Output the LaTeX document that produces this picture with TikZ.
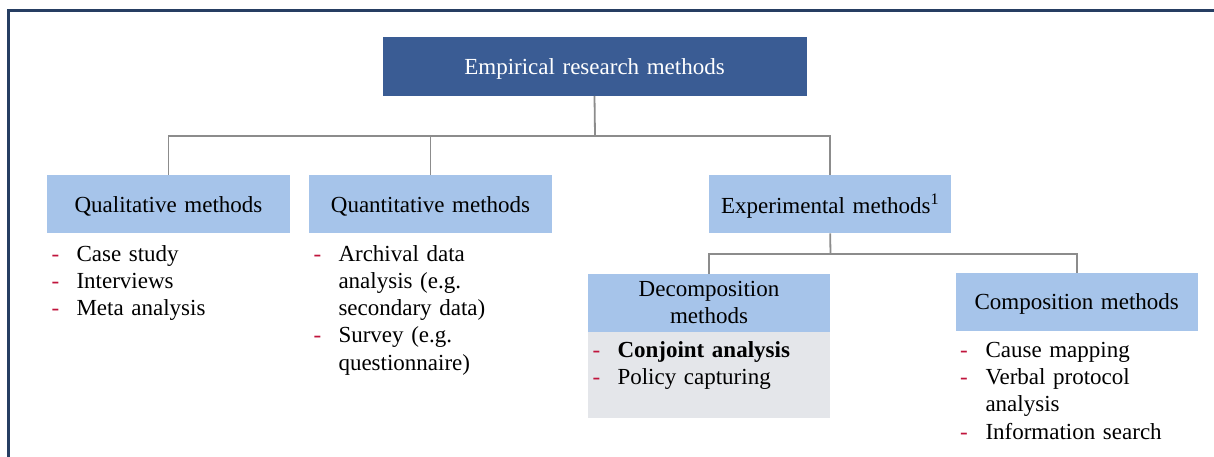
\documentclass[tikz,border=0pt]{standalone}
\usepackage{fontspec}
\setmainfont{Liberation Serif}
\definecolor{framecol}{RGB}{38,62,98}
\definecolor{darkbox}{RGB}{58,92,148}
\definecolor{lightbox}{RGB}{166,196,234}
\definecolor{listbg}{RGB}{228,230,234}
\definecolor{conncol}{RGB}{140,140,140}
\definecolor{dashcol}{RGB}{192,20,60}
\newcommand{\txtsize}{\fontsize{23}{27.3}\selectfont\spaceskip=0.33em\relax}
\tikzset{
  x=1pt, y=-1pt,
  every node/.style={inner sep=0pt, outer sep=0pt, font=\txtsize},
  topbox/.style={fill=darkbox, text=white, anchor=north west, minimum height=59.3pt, text depth=0pt},
  catbox/.style={fill=lightbox, text=black, anchor=north west, minimum height=58.3pt, align=center},
  oneline/.style={text depth=0pt},
  conn/.style={draw=conncol, line width=1.8pt},
  bullet/.style={anchor=base west, text=dashcol},
  item/.style={anchor=base west},
}
\begin{document}
\begin{tikzpicture}
  \useasboundingbox (0,0) rectangle (1214,457);
  \clip (0,0) rectangle (1214,457);
  \fill[white] (0,0) rectangle (1214,457);
  % outer frame, running past the right and bottom edges
  \draw[framecol, line width=2.2pt] (8.5,10.5) rectangle (1240,480);

  % boxes
  \node[topbox, minimum width=424pt] (top) at (382.5,36.7) {Empirical research methods};
  \node[catbox, oneline, minimum width=243pt] (qual) at (47,175) {Qualitative methods};
  \node[catbox, oneline, minimum width=243pt] (quant) at (309,175) {Quantitative methods};
  \node[catbox, oneline, minimum width=241.7pt] (exp) at (709.3,175) {Experimental methods\textsuperscript{1}};
  \node[fill=listbg, anchor=north west, minimum width=242pt, minimum height=87pt] (declist) at (588,331) {};
  \node[catbox, minimum width=242pt] (dec) at (588,273.5) {Decomposition\\methods};
  \node[catbox, oneline, minimum width=242pt] (comp) at (955.7,272.7) {Composition methods};

  % connectors
  \coordinate (bus1) at (595,135.7);
  \coordinate (bus2) at (830.5,254);
  \draw[conn] (top.south) -- (bus1);
  \draw[conn] (bus1) -| (qual.north);
  \draw[conn] (bus1) -| (quant.north);
  \draw[conn] (bus1) -| (exp.north);
  \draw[conn] (exp.south) -- (bus2);
  \draw[conn] (bus2) -| (dec.north);
  \draw[conn] (bus2) -| (comp.north);

  % qualitative list
  \node[bullet] (qd1) at (51.5,261) {-};
  \node[bullet] (qd2) at (51.5,288.3) {-};
  \node[bullet] (qd3) at (51.5,315.6) {-};
  \node[item] (qi1) at (76.5,261) {Case study};
  \node[item] (qi2) at (76.5,288.3) {Interviews};
  \node[item] (qi3) at (76.5,315.6) {Meta analysis};

  % quantitative list
  \node[bullet] (nd1) at (313.5,261) {-};
  \node[bullet] (nd2) at (313.5,342.9) {-};
  \node[item] (ni1a) at (338.5,261) {Archival data};
  \node[item] (ni1b) at (338.5,288.3) {analysis (e.g.};
  \node[item] (ni1c) at (338.5,315.6) {secondary data)};
  \node[item] (ni2a) at (338.5,342.9) {Survey (e.g.};
  \node[item] (ni2b) at (338.5,370.2) {questionnaire)};

  % decomposition list
  \node[bullet] (dd1) at (592.5,357) {-};
  \node[bullet] (dd2) at (592.5,384.3) {-};
  \node[item] (di1) at (617.5,357) {\bfseries Conjoint analysis};
  \node[item] (di2) at (617.5,384.3) {Policy capturing};

  % composition list
  \node[bullet] (cd1) at (960,357.3) {-};
  \node[bullet] (cd2) at (960,384.6) {-};
  \node[bullet] (cd3) at (960,439.2) {-};
  \node[item] (ci1) at (985.5,357.3) {Cause mapping};
  \node[item] (ci2a) at (985.5,384.6) {Verbal protocol};
  \node[item] (ci2b) at (985.5,411.9) {analysis};
  \node[item] (ci3) at (985.5,439.2) {Information search};
\end{tikzpicture}
\end{document}
